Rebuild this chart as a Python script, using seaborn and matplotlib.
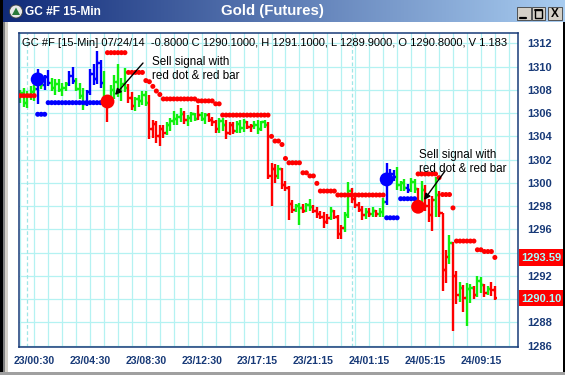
import numpy as np
import pandas as pd
import matplotlib
matplotlib.use("Agg")
import matplotlib.pyplot as plt
import matplotlib.transforms as mtransforms
from matplotlib.patches import Rectangle, Circle, Polygon
import seaborn as sns

# ---------------- data ----------------
first_bar = -2          # bar index of the first bar (23/00:00 == 0, 15-min bars)

bar_open = [1307.3, 1307.7, 1306.9, 1307.6, 1307.8, 1308.1, 1308.9, 1308.4, 1309.1, 1308.6,
            1308.2, 1308.5, 1308.0, 1308.2, 1308.5, 1309.2, 1308.8, 1308.1, 1307.5, 1306.8,
            1307.8, 1309.4, 1308.9, 1310.3, 1308.6, 1307.3, 1306.9, 1308.0, 1308.7, 1307.9,
            1308.5, 1308.2, 1307.3, 1306.6, 1307.2, 1307.0, 1307.6, 1306.9, 1304.6, 1305.1,
            1304.0, 1304.6, 1304.3, 1305.0, 1305.3, 1305.5, 1305.7, 1305.9, 1305.4, 1305.6,
            1305.9, 1305.5, 1305.8, 1305.5, 1305.8, 1305.4, 1305.2, 1304.6, 1305.3, 1305.0,
            1304.3, 1305.0, 1304.5, 1305.1, 1304.7, 1305.2, 1304.8, 1304.9, 1305.0, 1304.6,
            1305.2, 1305.0, 1300.6, 1301.2, 1300.6, 1301.2, 1299.8, 1299.6, 1298.2, 1297.7,
            1298.0, 1297.8, 1297.6, 1298.1, 1297.9, 1297.6, 1297.3, 1297.1, 1296.6, 1297.0,
            1297.6, 1297.1, 1295.6, 1296.1, 1297.2, 1299.3, 1298.6, 1298.1, 1297.7, 1297.2,
            1297.5, 1297.3, 1297.6, 1297.3, 1297.5, 1298.4, 1300.6, 1300.8, 1300.5, 1299.8,
            1300.0, 1299.6, 1299.4, 1300.1, 1299.5, 1298.0, 1299.4, 1298.0, 1297.2, 1298.5,
            1299.0, 1297.4, 1292.5, 1293.6, 1294.8, 1292.0, 1290.4, 1291.0, 1290.1, 1290.9,
            1291.0, 1290.4, 1291.6, 1291.2, 1290.5, 1290.9, 1290.8]
bar_high = [1308.0, 1308.2, 1307.9, 1308.3, 1308.4, 1309.8, 1309.1, 1309.3, 1309.7, 1309.0,
            1308.9, 1308.9, 1308.6, 1308.7, 1309.6, 1310.0, 1309.0, 1308.6, 1308.2, 1308.0,
            1309.8, 1310.2, 1311.3, 1310.6, 1309.6, 1307.6, 1308.4, 1309.3, 1310.2, 1309.0,
            1309.9, 1308.5, 1307.8, 1307.4, 1307.6, 1307.9, 1307.9, 1307.6, 1305.4, 1305.3,
            1305.0, 1305.0, 1305.2, 1305.6, 1306.2, 1305.9, 1306.4, 1306.2, 1305.8, 1306.1,
            1306.0, 1306.7, 1306.1, 1306.0, 1306.0, 1305.7, 1305.4, 1305.6, 1305.6, 1305.4,
            1305.2, 1305.2, 1305.3, 1305.4, 1305.5, 1305.3, 1305.1, 1305.3, 1305.4, 1305.3,
            1305.4, 1305.2, 1301.7, 1301.6, 1301.5, 1301.3, 1300.2, 1299.7, 1298.5, 1298.2,
            1298.3, 1298.2, 1298.3, 1298.6, 1298.1, 1297.9, 1297.6, 1297.5, 1297.3, 1297.9,
            1297.7, 1297.2, 1296.4, 1297.5, 1300.1, 1299.6, 1298.9, 1298.4, 1298.0, 1297.8,
            1297.8, 1297.9, 1297.7, 1297.8, 1298.7, 1301.7, 1301.2, 1301.1, 1301.4, 1300.2,
            1300.3, 1299.9, 1300.4, 1300.3, 1299.6, 1300.2, 1299.8, 1298.6, 1298.9, 1300.5,
            1299.3, 1297.4, 1294.2, 1295.5, 1294.9, 1292.4, 1291.5, 1291.2, 1291.4, 1291.3,
            1291.1, 1292.0, 1291.9, 1291.3, 1291.1, 1291.5, 1291.1]
bar_low = [1306.9, 1306.5, 1306.4, 1307.1, 1307.0, 1306.8, 1308.1, 1308.0, 1308.3, 1307.9,
           1307.6, 1307.8, 1307.5, 1307.9, 1308.3, 1308.5, 1307.9, 1307.2, 1306.3, 1306.6,
           1307.6, 1308.4, 1308.5, 1308.2, 1306.5, 1305.2, 1306.6, 1307.2, 1307.4, 1307.0,
           1307.8, 1306.9, 1306.3, 1306.2, 1306.5, 1306.7, 1306.6, 1303.8, 1303.9, 1303.4,
           1303.2, 1303.9, 1304.1, 1304.5, 1305.0, 1305.0, 1305.2, 1305.1, 1304.9, 1305.2,
           1305.3, 1305.4, 1305.3, 1305.1, 1305.2, 1304.9, 1304.3, 1304.3, 1304.5, 1303.8,
           1304.1, 1304.2, 1304.3, 1304.3, 1304.4, 1304.6, 1304.4, 1304.6, 1304.2, 1304.5,
           1304.7, 1300.3, 1298.0, 1300.0, 1300.3, 1299.5, 1299.3, 1296.8, 1297.4, 1297.5,
           1296.4, 1297.4, 1297.5, 1297.6, 1297.4, 1297.0, 1296.9, 1296.1, 1296.5, 1296.8,
           1296.9, 1295.2, 1295.2, 1295.8, 1297.0, 1298.3, 1297.8, 1297.5, 1296.8, 1296.9,
           1297.1, 1297.1, 1297.1, 1297.1, 1297.1, 1298.1, 1300.0, 1300.2, 1299.4, 1299.3,
           1299.3, 1299.1, 1299.2, 1299.1, 1297.8, 1297.9, 1297.6, 1296.6, 1295.9, 1297.1,
           1297.1, 1290.7, 1291.4, 1293.0, 1287.3, 1289.6, 1289.8, 1288.9, 1287.7, 1289.7,
           1290.0, 1290.2, 1290.5, 1290.2, 1290.4, 1290.3, 1289.9]
bar_close = [1307.7, 1306.9, 1307.6, 1307.8, 1308.1, 1308.9, 1308.4, 1309.1, 1308.6, 1308.2,
             1308.5, 1308.0, 1308.2, 1308.5, 1309.2, 1308.8, 1308.1, 1307.5, 1306.8, 1307.8,
             1309.4, 1308.9, 1310.3, 1308.6, 1307.3, 1306.9, 1308.0, 1308.7, 1307.9, 1308.5,
             1308.2, 1307.3, 1306.6, 1307.2, 1307.0, 1307.6, 1306.9, 1304.6, 1305.1, 1304.0,
             1304.6, 1304.3, 1305.0, 1305.3, 1305.5, 1305.7, 1305.9, 1305.4, 1305.6, 1305.9,
             1305.5, 1305.8, 1305.5, 1305.8, 1305.4, 1305.2, 1304.6, 1305.3, 1305.0, 1304.3,
             1305.0, 1304.5, 1305.1, 1304.7, 1305.2, 1304.8, 1304.9, 1305.0, 1304.6, 1305.2,
             1305.0, 1300.6, 1301.2, 1300.6, 1301.2, 1299.8, 1299.6, 1298.2, 1297.7, 1298.0,
             1297.8, 1297.6, 1298.1, 1297.9, 1297.6, 1297.3, 1297.1, 1296.6, 1297.0, 1297.6,
             1297.1, 1295.6, 1296.1, 1297.2, 1299.3, 1298.6, 1298.1, 1297.7, 1297.2, 1297.5,
             1297.3, 1297.6, 1297.3, 1297.5, 1298.4, 1300.6, 1300.8, 1300.5, 1299.8, 1300.0,
             1299.6, 1299.4, 1300.1, 1299.5, 1298.0, 1299.4, 1298.0, 1297.2, 1298.5, 1299.0,
             1297.4, 1292.5, 1293.6, 1294.8, 1292.0, 1290.4, 1291.0, 1290.1, 1290.9, 1291.0,
             1290.4, 1291.6, 1291.2, 1290.5, 1290.9, 1290.8, 1290.1]
bar_color = list("gggggbgbbgggggbbgggbbbbbgrgggggrrggggrrrrrgggggrgggrggrrrggrrrgggrrggggrrrg"
                 "rrrrggrggrrrrrgrrrggrrrrgrgrggbbbgggbggrgrrrgrrrgrrgrggrggrgrr")

red_stop = ([1307.5] * 5 + [None] * 20 + [1311.2] * 6 + [1309.5] * 5
            + [1308.8, 1308.7, 1308.3, 1307.9, 1307.6] + [1307.22] * 10 + [1307.05] * 5
            + [1306.8] * 2 + [1305.83] * 14 + [1304.0, 1303.6, 1303.6, 1303.3, 1302.1]
            + [1301.73] * 4 + [1300.87] * 2 + [1300.6] * 2 + [1299.96] + [1299.3] * 5
            + [1298.96] * 14 + [None] * 9 + [1300.77] * 6 + [1300.45] + [1299.0] * 3
            + [1297.85] + [1295.0] * 6 + [1294.25] * 2 + [1294.1] * 3 + [1293.59])
blue_stop = ([None] * 5 + [1305.9] * 3 + [1306.9] * 17 + [None] * 80
             + [1297.0] * 4 + [1298.64] * 5 + [None] * 23)

buy_signal_bar = [3, 103]
buy_signal_price = [1308.9, 1300.3]
sell_signal_bar = [23, 112]
sell_signal_price = [1307.0, 1297.95]

time_label_bar = [2, 18, 34, 50, 66, 82, 98, 114, 130]
time_labels = ["23/00:30", "23/04:30", "23/08:30", "23/12:30", "23/17:15",
               "23/21:15", "24/01:15", "24/05:15", "24/09:15"]
day_break_bar = [0, 93]
price_ticks = [1312, 1310, 1308, 1306, 1304, 1302, 1300, 1298, 1296, 1292, 1288, 1286]
last_stop_label = "1293.59"
last_close_label = "1290.10"
header = ("GC #F [15-Min] 07/24/14  -0.8000 C 1290.1000, H 1291.1000, "
          "L 1289.9000, O 1290.8000, V 1.183")
note_text = "Sell signal with\nred dot & red bar"

# ---------------- style ----------------
sns.set_style("white")
plt.rcParams['font.family'] = ['Liberation Sans', 'DejaVu Sans']

W, H = 565, 375
fig = plt.figure(figsize=(W / 100, H / 100), dpi=100, facecolor='white')

GREEN, RED, BLUE = '#0ff00f', '#ff0000', '#0000ff'
NAVY = '#183a78'
GRID = '#b4f2f2'
cmap = {'g': GREEN, 'r': RED, 'b': BLUE}

ax_l, ax_r, ax_t, ax_b = 18.7, 518.0, 33.0, 347.0
ax = fig.add_axes([ax_l / W, 1 - ax_b / H, (ax_r - ax_l) / W, (ax_b - ax_t) / H])
ax.set_facecolor('white')

n = len(bar_open)
df = pd.DataFrame({
    'bar': np.arange(first_bar, first_bar + n),
    'open': bar_open, 'high': bar_high, 'low': bar_low, 'close': bar_close,
    'col': [cmap[c] for c in bar_color],
    'red_stop': pd.to_numeric(pd.Series(red_stop), errors='coerce'),
    'blue_stop': pd.to_numeric(pd.Series(blue_stop), errors='coerce'),
})

# grid
ax.set_xlim(-2.44, 140.63)
ax.set_ylim(1285.89, 1312.89)
minor_x = np.arange(first_bar, 141, 4)
for xv in minor_x:
    ax.axvline(xv, color=GRID, lw=0.9, zorder=0)
for yv in range(1286, 1313, 2):
    ax.axhline(yv, color=GRID, lw=0.9, zorder=0)
for xv in day_break_bar:
    ax.axvline(xv, color='#9fe6e6', lw=0.9, ls=(0, (3, 2)), zorder=0)

# OHLC bars
lw = 1.7
ax.vlines(df['bar'], df['low'], df['high'], colors=df['col'], lw=lw, zorder=2)
ax.hlines(df['open'], df['bar'] - 0.65, df['bar'], colors=df['col'], lw=lw, zorder=2)
ax.hlines(df['close'], df['bar'], df['bar'] + 0.65, colors=df['col'], lw=lw, zorder=2)

# stop dots
rs = df.dropna(subset=['red_stop'])
bs = df.dropna(subset=['blue_stop'])
sns.scatterplot(x=rs['bar'], y=rs['red_stop'], ax=ax, color=RED, s=13, marker='o',
                edgecolor='none', legend=False, zorder=3)
sns.scatterplot(x=bs['bar'], y=bs['blue_stop'], ax=ax, color=BLUE, s=13, marker='o',
                edgecolor='none', legend=False, zorder=3)
# signal dots
sns.scatterplot(x=buy_signal_bar, y=buy_signal_price, ax=ax, color=BLUE, s=100,
                edgecolor='none', legend=False, zorder=4)
sns.scatterplot(x=sell_signal_bar, y=sell_signal_price, ax=ax, color=RED, s=100,
                edgecolor='none', legend=False, zorder=4)

# axes cosmetics
for sp in ax.spines.values():
    sp.set_color(NAVY)
    sp.set_linewidth(1.1)
ax.set_xticks(minor_x)
ax.set_xticklabels([time_labels[time_label_bar.index(b)] if b in time_label_bar else ''
                    for b in minor_x])
ax.tick_params(axis='x', direction='out', length=3, width=0.9, color=NAVY,
               labelcolor=NAVY, labelsize=7.6, pad=3.5)
for t in ax.get_xticklabels():
    t.set_fontweight('bold')
ax.yaxis.tick_right()
ax.set_yticks(price_ticks)
ax.set_yticklabels([str(v) for v in price_ticks])
ax.tick_params(axis='y', length=0, labelcolor=NAVY, labelsize=8, pad=6.5)
for t in ax.get_yticklabels():
    t.set_fontweight('bold')
ax.set_xlabel('')
ax.set_ylabel('')

# ---------------- overlay (window chrome, text) ----------------
ov = fig.add_axes([0, 0, 1, 1], zorder=5)
ov.set_xlim(0, W)
ov.set_ylim(H, 0)
ov.axis('off')
ov.patch.set_alpha(0)

# title bar gradient
grad = np.linspace(0, 1, 256)[None, :]
c0 = np.array([0x10, 0x2a, 0x78]) / 255
c1 = np.array([0xa8, 0xcc, 0xf0]) / 255
img = c0[None, None, :] * (1 - grad[..., None]) + c1[None, None, :] * grad[..., None]
ov.imshow(img, extent=(0, W, 22, 0), aspect='auto', zorder=1)
ov.set_xlim(0, W)
ov.set_ylim(H, 0)
ov.add_patch(Circle((16, 11.5), 6.5, fc='#e8e8e8', ec='#404040', lw=0.6, zorder=2))
ov.add_patch(Polygon([[12, 15], [16, 7.5], [20, 15]], closed=True, fc='#2a7a3a', ec='none', zorder=3))
ov.text(25, 12, "GC #F 15-Min", color='white', fontsize=8.6, fontweight='bold',
        va='center', ha='left', zorder=3)
ov.text(272, 11.5, "Gold (Futures)", color='white', fontsize=10.8, fontweight='bold',
        va='center', ha='center', zorder=3)
for bx in [517, 531.5, 548]:
    ov.add_patch(Rectangle((bx, 7), 13.5, 13, fc='#d4d0c8', ec='#404040', lw=0.6, zorder=2))
ov.plot([520, 526], [17.5, 17.5], color='black', lw=1.6, zorder=3)
ov.add_patch(Rectangle((534.5, 9.5), 7.5, 8, fc='none', ec='black', lw=1.0, zorder=3))
ov.plot([534.5, 542], [10, 10], color='black', lw=1.4, zorder=3)
ov.text(554.8, 14, "X", color='black', fontsize=8.5, fontweight='bold', ha='center',
        va='center', zorder=3)

# window borders
ov.add_patch(Rectangle((0, 0), 2.5, H, fc='#000000', ec='none', zorder=1))
ov.add_patch(Rectangle((2.5, 22), 2.5, H, fc='#808080', ec='none', zorder=1))
ov.add_patch(Rectangle((5, 22), 2.5, H, fc='#d4d0c8', ec='none', zorder=1))
ov.add_patch(Rectangle((562.5, 22), 2.5, H, fc='#000000', ec='none', zorder=1))
ov.add_patch(Rectangle((0, 372), W, 3, fc='#a0a0a0', ec='none', zorder=1))

# header text
ov.text(22.5, 43.5, header, fontsize=8.0, color='black', va='center', ha='left', zorder=6)

# price boxes on the right axis
trans = mtransforms.blended_transform_factory(ov.transData, ax.transData)
for val, lab in [(float(last_stop_label), last_stop_label),
                 (float(last_close_label), last_close_label)]:
    ov.add_patch(Rectangle((519, val - 0.72), 44, 1.44, transform=trans,
                           fc='#ff0000', ec='none', zorder=5))
    ov.text(541, val - 0.05, lab, transform=trans, color='#a8ffff', fontsize=8,
            fontweight='bold', ha='center', va='center', zorder=6)

# annotations
for (tx, ty), (sx, sy), (hx, hy) in [((152, 56), (143, 63), (115, 95)),
                                      ((419, 149), (445, 171), (424, 200))]:
    ov.text(tx, ty, note_text, fontsize=8.4, color='black', va='top', ha='left',
            linespacing=1.25, zorder=6)
    ov.annotate('', xy=(hx, hy), xytext=(sx, sy),
                arrowprops=dict(arrowstyle='-|>', color='black', lw=1.0,
                                mutation_scale=9, shrinkA=0, shrinkB=0), zorder=6)

fig.savefig('out.png', dpi=100, facecolor='white')
